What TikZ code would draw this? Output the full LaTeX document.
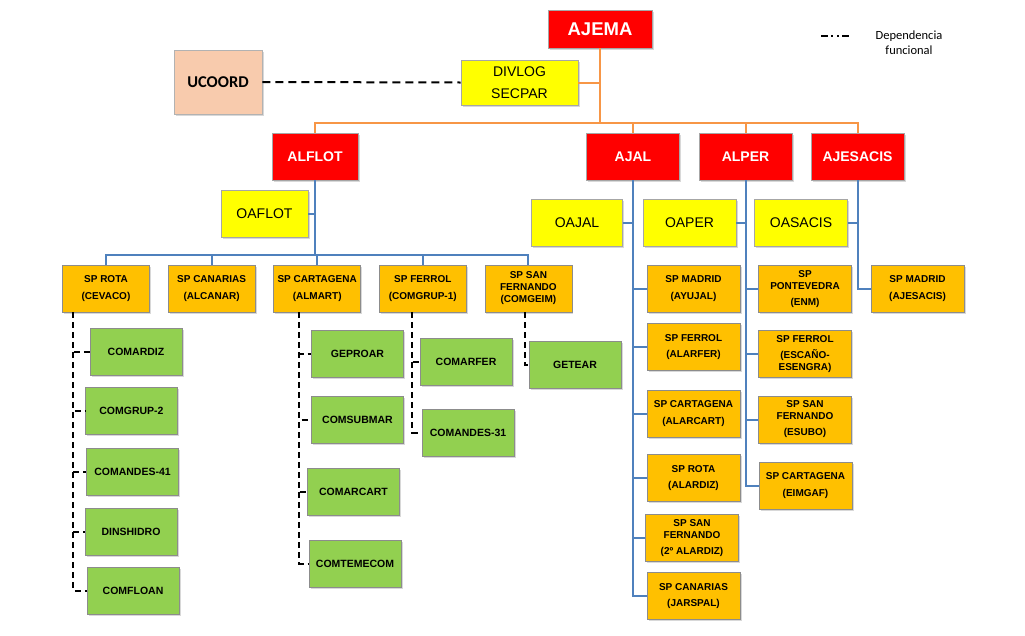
\documentclass[tikz,border=0pt]{standalone}
\usepackage{fontspec}
\setmainfont{Liberation Sans}
\newfontfamily\calibri{Carlito}
\usepackage{tikz}
\usetikzlibrary{positioning,shadows}
\definecolor{rojo}{HTML}{FF0000}
\definecolor{amarillo}{HTML}{FFFF00}
\definecolor{oro}{HTML}{FFC000}
\definecolor{verde}{HTML}{92D050}
\definecolor{salmon}{HTML}{F8CBAD}
\definecolor{lineanar}{HTML}{F79646}
\definecolor{lineaazul}{HTML}{4F81BD}
\tikzstyle{mando}=[%
      rectangle, draw=black!35, line width=0.6pt, fill=rojo, text=white,
      drop shadow={shadow xshift=1.5pt, shadow yshift=-1.5pt, fill=black!30},
      font=\fontsize{14}{16}\selectfont\bfseries,
      minimum height=47pt, minimum width=93pt, inner sep=2pt, align=center
]
\tikzstyle{ofi}=[%
      rectangle, draw=black!35, line width=0.6pt, fill=amarillo,
      drop shadow={shadow xshift=1.5pt, shadow yshift=-1.5pt, fill=black!30},
      font=\fontsize{14}{22}\selectfont,
      minimum height=47pt, minimum width=93pt, inner sep=2pt, align=center
]
\tikzstyle{sp}=[%
      rectangle, draw=black!45, line width=0.6pt, fill=oro,
      drop shadow={shadow xshift=1.5pt, shadow yshift=-1.5pt, fill=black!30},
      font=\fontsize{10}{12}\selectfont\bfseries,
      minimum height=47pt, minimum width=93pt, inner sep=2pt, align=center
]
\tikzstyle{uni}=[%
      rectangle, draw=black!45, line width=0.6pt, fill=verde,
      drop shadow={shadow xshift=1.5pt, shadow yshift=-1.5pt, fill=black!30},
      font=\fontsize{10.5}{12}\selectfont\bfseries,
      minimum height=47pt, minimum width=92pt, inner sep=2pt, align=center
]
\tikzstyle{coo}=[%
      rectangle, draw=black!30, line width=0.6pt, fill=salmon,
      drop shadow={shadow xshift=1.5pt, shadow yshift=-1.5pt, fill=black!30},
      font=\calibri\fontsize{16.5}{18}\selectfont\bfseries,
      minimum height=64pt, minimum width=88pt, inner sep=2pt, align=center
]
\tikzstyle{naranja}=[draw=lineanar, line width=2pt]
\tikzstyle{azul}=[draw=lineaazul, line width=2pt]
\tikzstyle{dep}=[draw=black, line width=2pt, dash pattern=on 6pt off 4pt]

\begin{document}
\begin{tikzpicture}[x=1pt, y=-1pt]
    \useasboundingbox (0,0) rectangle (1025,635);

    % cuartel general
    \node[mando, minimum width=104pt, minimum height=38pt,
          font=\fontsize{18.5}{20}\selectfont\bfseries] (ajema) at (600,29) {AJEMA};
    \node[coo]   (ucoord) at (218,82) {UCOORD};
    \node[ofi, minimum width=117pt, minimum height=45pt] (divlog) at (519.5,82.5) {DIVLOG\\SECPAR};

    \node[mando, minimum width=86pt] (alflot) at (315,156.5) {ALFLOT};
    \node[mando] (ajal)     at (633,156.5)   {AJAL};
    \node[mando] (alper)    at (745.5,156.5) {ALPER};
    \node[mando] (ajesacis) at (857.5,156.5) {AJESACIS};

    \node[ofi, minimum width=87pt] (oaflot) at (264.5,213.5) {OAFLOT};
    \node[ofi, minimum width=91pt] (oajal)  at (577,222.5)   {OAJAL};
    \node[ofi] (oaper)   at (689.5,222.5) {OAPER};
    \node[ofi] (oasacis) at (801,222.5)   {OASACIS};

    % sectores de ALFLOT
    \node[sp, minimum width=87pt] (sprota) at (106,288.5) {SP ROTA\\[4.5pt](CEVACO)};
    \node[sp, minimum width=87pt] (spcanarias)  [right = 18pt of sprota]      {SP CANARIAS\\[4.5pt](ALCANAR)};
    \node[sp, minimum width=87pt] (spcartagena) [right = 18pt of spcanarias]  {SP CARTAGENA\\[4.5pt](ALMART)};
    \node[sp, minimum width=87pt] (spferrol)    [right = 18pt of spcartagena] {SP FERROL\\[4.5pt](COMGRUP-1)};
    \node[sp, minimum width=87pt] (spsanfer)    [right = 18pt of spferrol]    {SP SAN\\FERNANDO\\(COMGEIM)};

    % sectores de AJAL
    \node[sp] (spayujal)   at (693.5,288.5) {SP MADRID\\[4.5pt](AYUJAL)};
    \node[sp] (spalarfer)  at (693.5,347)   {SP FERROL\\[4.5pt](ALARFER)};
    \node[sp] (spalarcart) at (693.5,413.5) {SP CARTAGENA\\[4.5pt](ALARCART)};
    \node[sp] (spalardiz)  at (693.5,478)   {SP ROTA\\[4.5pt](ALARDIZ)};
    \node[sp] (spalardizb) at (692,538)     {SP SAN\\FERNANDO\\[4pt](2º ALARDIZ)};
    \node[sp] (spjarspal)  at (693.5,596)   {SP CANARIAS\\[4.5pt](JARSPAL)};

    % sectores de ALPER y AJESACIS
    \node[sp] (spenm)      at (805,289)     {SP\\PONTEVEDRA\\[4.5pt](ENM)};
    \node[sp] (spesengra)  at (805,354)     {SP FERROL\\[3.5pt](ESCAÑO-\\ESENGRA)};
    \node[sp] (spesubo)    at (805,419.5)   {SP SAN\\FERNANDO\\[4pt](ESUBO)};
    \node[sp] (speimgaf)   at (805.5,485.5) {SP CARTAGENA\\[4.5pt](EIMGAF)};
    \node[sp] (spajesacis) at (917.5,288.5) {SP MADRID\\[4.5pt](AJESACIS)};

    % unidades
    \node[uni] (comardiz)   at (136,351.5)   {COMARDIZ};
    \node[uni] (comgrupb)   at (131.5,410.5) {COMGRUP-2};
    \node[uni] (comandescu) at (132.5,472)   {COMANDES-41};
    \node[uni] (dinshidro)  at (131,532)     {DINSHIDRO};
    \node[uni] (comfloan)   at (133,590.5)   {COMFLOAN};
    \node[uni] (geproar)    at (357.5,354)   {GEPROAR};
    \node[uni] (comsubmar)  at (357.5,420)   {COMSUBMAR};
    \node[uni] (comarcart)  at (353.5,492)   {COMARCART};
    \node[uni] (comtemecom) at (355,564)     {COMTEMECOM};
    \node[uni] (comarfer)   at (466,362)     {COMARFER};
    \node[uni] (comandestr) at (468,432.5)   {COMANDES-31};
    \node[uni] (getear)     at (575,365)     {GETEAR};

    % leyenda
    \coordinate (leya) at (821,36);
    \coordinate (leyb) at (849,36);
    \node[font=\calibri\fontsize{12.5}{15}\selectfont, align=center] (leytxt) at (909,43) {Dependencia\\funcional};
    \draw[line width=2.4pt, dash pattern=on 7pt off 3pt on 2pt off 4pt on 2pt off 3pt on 7pt] (leya) -- (leyb);

    % dependencia jerarquica
    \coordinate (bus) at (600,123);
    \draw[naranja] (ajema.south) -- (bus)
          (divlog.east) -- (divlog.east -| bus)
          (alflot.north) |- (bus) -| (ajesacis.north)
          (ajal.north) -- (ajal.north |- bus)
          (alper.north) -- (alper.north |- bus);

    \coordinate (filabus) at (315,255);
    \draw[azul] (alflot.south) -- (filabus)
          (oaflot.east) -- (oaflot.east -| alflot.south)
          (sprota.north) |- (filabus) -| (spsanfer.north)
          (spcanarias.north) -- (spcanarias.north |- filabus)
          (spcartagena.north) -- (spcartagena.north |- filabus)
          (spferrol.north) -- (spferrol.north |- filabus);

    \draw[azul] (ajal.south) |- (spjarspal.west)
          (oajal.east) -- (oajal.east -| ajal.south)
          (spayujal.west) -- (spayujal.west -| ajal.south)
          (spalarfer.west) -- (spalarfer.west -| ajal.south)
          (spalarcart.west) -- (spalarcart.west -| ajal.south)
          (spalardiz.west) -- (spalardiz.west -| ajal.south)
          (spalardizb.west) -- (spalardizb.west -| ajal.south);

    \draw[azul] (alper.south) |- (speimgaf.west)
          (oaper.east) -- (oaper.east -| alper.south)
          (spenm.west) -- (spenm.west -| alper.south)
          (spesengra.west) -- (spesengra.west -| alper.south)
          (spesubo.west) -- (spesubo.west -| alper.south);

    \draw[azul] (ajesacis.south) |- (spajesacis.west)
          (oasacis.east) -- (oasacis.east -| ajesacis.south);

    % dependencia funcional
    \draw[dep, dash pattern=on 8pt off 5pt] (ucoord.east) -- (divlog.west);

    \coordinate (rotadep) at ([xshift=-33pt]sprota.south);
    \coordinate (cartdep) at ([xshift=-18pt]spcartagena.south);
    \coordinate (ferrdep) at ([xshift=-10.5pt]spferrol.south);
    \coordinate (sanfdep) at ([xshift=-3.5pt]spsanfer.south);
    \draw[dep] (rotadep) |- (comardiz.west)
          (rotadep) |- (comgrupb.west)
          (rotadep) |- (comandescu.west)
          (rotadep) |- (dinshidro.west)
          (rotadep) |- (comfloan.west);
    \draw[dep] (cartdep) |- (geproar.west)
          (cartdep) |- (comsubmar.west)
          (cartdep) |- (comarcart.west)
          (cartdep) |- (comtemecom.west);
    \draw[dep] (ferrdep) |- (comarfer.west)
          (ferrdep) |- (comandestr.west);
    \draw[dep] (sanfdep) |- (getear.west);

  \end{tikzpicture}
\end{document}
